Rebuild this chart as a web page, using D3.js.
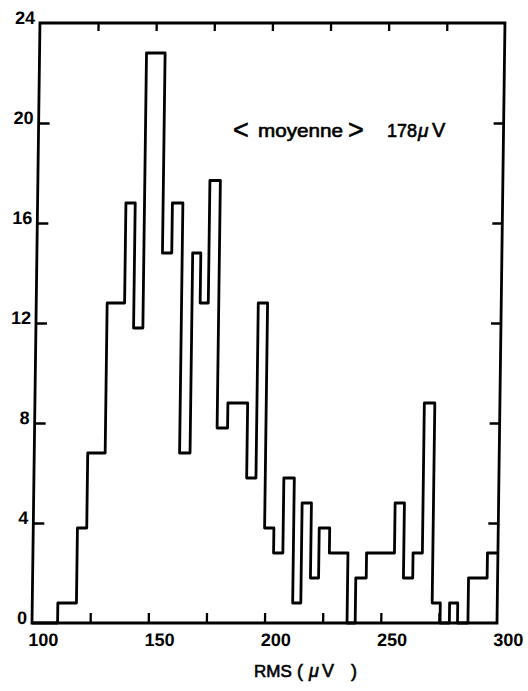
<!DOCTYPE html>
<html>
<head>
<meta charset="utf-8">
<script src="https://cdn.jsdelivr.net/npm/d3@7"></script>
<style>
  body { margin: 0; background: #fff; }
  text { font-family: "Liberation Sans", Arial, Helvetica, sans-serif; fill: #000; }
</style>
</head>
<body>
<svg id="chart" width="528" height="691"></svg>
<script>
// ---- data (bin edges and heights) ----
const binEdges = [100,111,119,123,130.5,138,142,146,154,158,162.5,167,170.5,174,178.5,183,191.5,195.5,199.5,
                  203.5,207.5,212,215.5,219.5,223,227.5,235.5,239,243.5,255.5,259.5,263.5,267.5,272,275.5,
                  279.5,283,287.5,295.5,300];
const counts   = [0,0.8,3.8,6.8,12.8,16.8,11.8,22.8,14.8,16.8,6.8,14.8,12.8,17.7,7.8,8.8,5.8,12.8,
                  3.8,2.8,5.8,0.8,4.8,1.8,3.8,2.8,0,1.8,2.8,4.8,1.8,2.8,8.8,0.8,0,0.8,0,1.8,2.8];
const xDomain = [100, 300];
const yDomain = [0, 24];
const xTickLabels = [100, 150, 200, 250, 300];
const xTickMarks = [125, 150, 175, 200, 225, 250, 275];
const yTickLabels = [0, 4, 8, 12, 16, 20, 24];
const yTickMarks = [4, 8, 12, 16, 20];
const xTitle = ["RMS", "(", "\u03BC", "V", ")"];
const note = ["<", "moyenne", ">", "178", "\u03BC", "V"];

// ---- scales ----
const svg = d3.select("#chart");
svg.append("rect").attr("width", 528).attr("height", 691).attr("fill", "#fff");

const x = d3.scaleLinear().domain(xDomain).range([32, 497]);
const y = d3.scaleLinear().domain(yDomain).range([623, 23]);

// the scanned figure leans slightly; reproduce with a small skew anchored on the baseline
const g = svg.append("g")
  .attr("transform", `translate(0,${y(0)}) skewX(-0.76) translate(0,${-y(0)})`);

const tickStroke = 2.3;

function styleTicks(sel) {
  sel.select(".domain").remove();
  sel.selectAll(".tick line").attr("stroke", "#000").attr("stroke-width", tickStroke);
}

// tick marks (inward)
g.append("g").attr("transform", `translate(0,${y(0)})`)
  .call(d3.axisBottom(x).tickValues(xTickMarks).tickSize(-10).tickFormat(""))
  .call(styleTicks);
g.append("g").attr("transform", `translate(0,${y(24)})`)
  .call(d3.axisTop(x).tickValues(xTickMarks).tickSize(-8).tickFormat(""))
  .call(styleTicks);
g.append("g").attr("transform", `translate(${x(100)},0)`)
  .call(d3.axisLeft(y).tickValues(yTickMarks).tickSize(-11).tickFormat(""))
  .call(styleTicks);
g.append("g").attr("transform", `translate(${x(300)},0)`)
  .call(d3.axisRight(y).tickValues(yTickMarks).tickSize(-10).tickFormat(""))
  .call(styleTicks);

// tick labels
const yLab = g.append("g").attr("transform", `translate(${x(100)},0)`)
  .call(d3.axisLeft(y).tickValues(yTickLabels).tickSize(0).tickPadding(5).tickFormat(d3.format("d")));
yLab.select(".domain").remove();
yLab.selectAll("text")
  .attr("font-size", 18).attr("font-weight", "bold")
  .attr("font-family", "Liberation Sans, Arial, sans-serif")
  .attr("fill", "#000")
  .attr("dy", "0.32em").attr("y", -5);

const xLab = g.append("g").attr("transform", `translate(0,${y(0)})`)
  .call(d3.axisBottom(x).tickValues(xTickLabels).tickSize(0).tickPadding(10).tickFormat(d3.format("d")));
xLab.select(".domain").remove();
xLab.selectAll("text")
  .attr("font-size", 18).attr("font-weight", "bold")
  .attr("font-family", "Liberation Sans, Arial, sans-serif")
  .attr("fill", "#000")
  .attr("dx", 11);

// frame
g.append("rect")
  .attr("x", x(100)).attr("y", y(24))
  .attr("width", x(300) - x(100)).attr("height", y(0) - y(24))
  .attr("fill", "none").attr("stroke", "#000").attr("stroke-width", 2.8);

// histogram step outline
const pts = counts.map((c, i) => [binEdges[i], c]);
pts.push([binEdges[binEdges.length - 1], counts[counts.length - 1]]);
const line = d3.line().x(d => x(d[0])).y(d => y(d[1])).curve(d3.curveStepAfter);
g.append("path")
  .attr("d", line(pts))
  .attr("fill", "none").attr("stroke", "#000")
  .attr("stroke-width", 2.8).attr("stroke-linejoin", "round");

// annotation
const ann = svg.append("text").attr("y", 137).attr("font-size", 18).attr("stroke", "#000").attr("stroke-width", 0.6);
ann.append("tspan").attr("x", 233).attr("y", 139).attr("font-size", 27).text(note[0]);
ann.append("tspan").attr("x", 258).attr("y", 137).attr("textLength", 85).attr("lengthAdjust", "spacingAndGlyphs").text(note[1]);
ann.append("tspan").attr("x", 348).attr("y", 139).attr("font-size", 27).text(note[2]);
ann.append("tspan").attr("x", 387).attr("y", 137).attr("textLength", 30).text(note[3]);
ann.append("tspan").attr("x", 418).attr("y", 137).attr("font-style", "italic").attr("font-size", 19).text(note[4]);
ann.append("tspan").attr("x", 432).attr("y", 137).attr("font-size", 20).text(note[5]);

// x axis title
const tt = svg.append("text").attr("y", 677).attr("font-size", 17).attr("stroke", "#000").attr("stroke-width", 0.6);
tt.append("tspan").attr("x", 254).text(xTitle[0]);
tt.append("tspan").attr("x", 297).attr("font-size", 18).text(xTitle[1]);
tt.append("tspan").attr("x", 309).attr("font-style", "italic").attr("font-size", 18).text(xTitle[2]);
tt.append("tspan").attr("x", 322).attr("font-size", 18).text(xTitle[3]);
tt.append("tspan").attr("x", 351).attr("font-size", 18).text(xTitle[4]);
</script>
</body>
</html>
